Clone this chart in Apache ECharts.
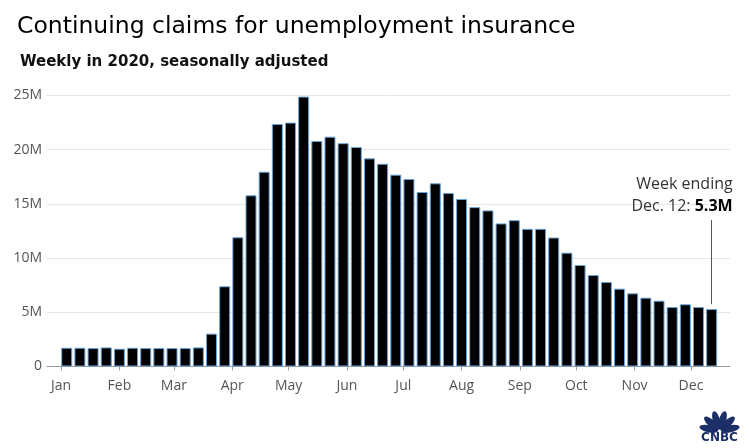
<!DOCTYPE html>
<html>
<head>
<meta charset="utf-8">
<script src="https://cdn.jsdelivr.net/npm/echarts@6/dist/echarts.min.js"></script>
<style>
  html, body { margin: 0; padding: 0; background: #fff; }
  #chart { width: 749px; height: 448px; }
</style>
</head>
<body>
<div id="chart"></div>
<script>
// week ending dates (Saturdays), 2020
const weekEnding = [
  '2020-01-04', '2020-01-11', '2020-01-18', '2020-01-25',
  '2020-02-01', '2020-02-08', '2020-02-15', '2020-02-22', '2020-02-29',
  '2020-03-07', '2020-03-14', '2020-03-21', '2020-03-28',
  '2020-04-04', '2020-04-11', '2020-04-18', '2020-04-25',
  '2020-05-02', '2020-05-09', '2020-05-16', '2020-05-23', '2020-05-30',
  '2020-06-06', '2020-06-13', '2020-06-20', '2020-06-27',
  '2020-07-04', '2020-07-11', '2020-07-18', '2020-07-25',
  '2020-08-01', '2020-08-08', '2020-08-15', '2020-08-22', '2020-08-29',
  '2020-09-05', '2020-09-12', '2020-09-19', '2020-09-26',
  '2020-10-03', '2020-10-10', '2020-10-17', '2020-10-24', '2020-10-31',
  '2020-11-07', '2020-11-14', '2020-11-21', '2020-11-28',
  '2020-12-05', '2020-12-12'
]
// continuing claims, millions
const claimsMillions = [
  1.73, 1.73, 1.70, 1.76,
  1.64, 1.73, 1.70, 1.70, 1.70,
  1.70, 1.76, 3.03, 7.40,
  11.92, 15.79, 17.97, 22.37,
  22.50, 24.90, 20.80, 21.20, 20.60,
  20.25, 19.20, 18.70, 17.70,
  17.30, 16.10, 16.90, 16.00,
  15.45, 14.70, 14.40, 13.20, 13.50,
  12.70, 12.70, 11.90, 10.50,
  9.36, 8.44, 7.80, 7.18, 6.75,
  6.35, 6.07, 5.49, 5.74,
  5.49, 5.30
]
const monthStarts = [
  '2020-01-01', '2020-02-01', '2020-03-01', '2020-04-01', '2020-05-01', '2020-06-01',
  '2020-07-01', '2020-08-01', '2020-09-01', '2020-10-01', '2020-11-01', '2020-12-01'
]
const monthLabels = ['Jan', 'Feb', 'Mar', 'Apr', 'May', 'Jun', 'Jul', 'Aug', 'Sep', 'Oct', 'Nov', 'Dec']
const yTicks = [0, 5, 10, 15, 20, 25]
const latestLabel = 'Dec. 12'
const latestValue = '5.3M'

const toTime = (s) => {
  const [y, m, d] = s.split('-').map(Number)
  return new Date(y, m - 1, d).getTime()
}
const lastTime = toTime(weekEnding[weekEnding.length - 1])
const monthTimes = monthStarts.map(toTime)
const axisFont = 'Open Sans'

const chart = echarts.init(document.getElementById('chart'))

// simple peacock mark, bottom right
const feathers = [-78, -47, -16, 16, 47, 78].map((deg) => ({
  type: 'ellipse',
  shape: { cx: 719.5, cy: 420, rx: 3.6, ry: 9.5 },
  originX: 719.5,
  originY: 431,
  rotation: (-deg * Math.PI) / 180,
  style: { fill: '#1d2f68' }
}))

const option = {
  animation: false,
  title: [
    {
      text: 'Continuing claims for unemployment insurance',
      left: 12,
      top: 10,
      textStyle: { fontFamily: 'DejaVu Sans', fontSize: 23.5, fontWeight: 'normal', color: '#000' }
    },
    {
      text: 'Weekly in 2020, seasonally adjusted',
      left: 15,
      top: 49.5,
      textStyle: { fontFamily: 'DejaVu Sans', fontSize: 15, fontWeight: 'bold', color: '#111' }
    }
  ],
  grid: { left: 47, right: 19, top: 95.5, bottom: 81.5, containLabel: false },
  xAxis: {
    type: 'value',
    min: new Date(2019, 11, 24, 12).getTime(),
    max: new Date(2020, 11, 21, 18).getTime(),
    axisLine: { onZero: false, lineStyle: { color: '#9a9a9a', width: 1 } },
    axisTick: {
      show: true,
      length: 4,
      lineStyle: { color: '#9a9a9a' },
      customValues: monthTimes
    },
    axisLabel: {
      customValues: monthTimes,
      formatter: (v) => monthLabels[new Date(v).getMonth()],
      fontFamily: axisFont,
      fontSize: 14,
      color: '#555',
      margin: 13
    },
    splitLine: { show: false }
  },
  yAxis: {
    type: 'value',
    min: yTicks[0],
    max: yTicks[yTicks.length - 1],
    interval: 5,
    axisLine: { show: false },
    axisTick: { show: false },
    axisLabel: {
      formatter: (v) => (v === 0 ? '0' : v + 'M'),
      fontFamily: axisFont,
      fontSize: 14,
      color: '#555',
      margin: 5
    },
    splitLine: { lineStyle: { color: '#e6e6e6', width: 1 } }
  },
  series: [
    {
      type: 'bar',
      data: weekEnding.map((d, i) => [toTime(d), claimsMillions[i]]),
      barWidth: 11,
      itemStyle: { color: '#000', borderColor: '#6aa3d6', borderWidth: 1 },
      z: 3,
      markLine: {
        silent: true,
        symbol: 'none',
        lineStyle: { color: '#555', width: 1, type: 'solid' },
        label: { show: false },
        data: [[{ coord: [lastTime, 5.75] }, { coord: [lastTime, 13.5] }]]
      },
      markPoint: {
        silent: true,
        symbolSize: 0,
        data: [{ coord: [lastTime, 13.5] }],
        label: {
          show: true,
          position: 'top',
          align: 'right',
          offset: [21, 0],
          distance: 3,
          formatter: `{a|Week ending}\n{a|${latestLabel}: }{b|${latestValue}}`,
          rich: {
            a: { fontFamily: axisFont, fontSize: 16, color: '#333', lineHeight: 22 },
            b: { fontFamily: axisFont, fontSize: 16, fontWeight: 'bold', color: '#000', lineHeight: 22 }
          }
        }
      }
    }
  ],
  graphic: [
    { type: 'group', children: feathers },
    {
      type: 'text',
      x: 719.5,
      y: 437.5,
      style: {
        text: 'CNBC',
        fill: '#1d2f68',
        font: 'bold 12px "DejaVu Sans"',
        textAlign: 'center',
        textVerticalAlign: 'middle'
      }
    }
  ]
}

chart.setOption(option)
</script>
</body>
</html>
